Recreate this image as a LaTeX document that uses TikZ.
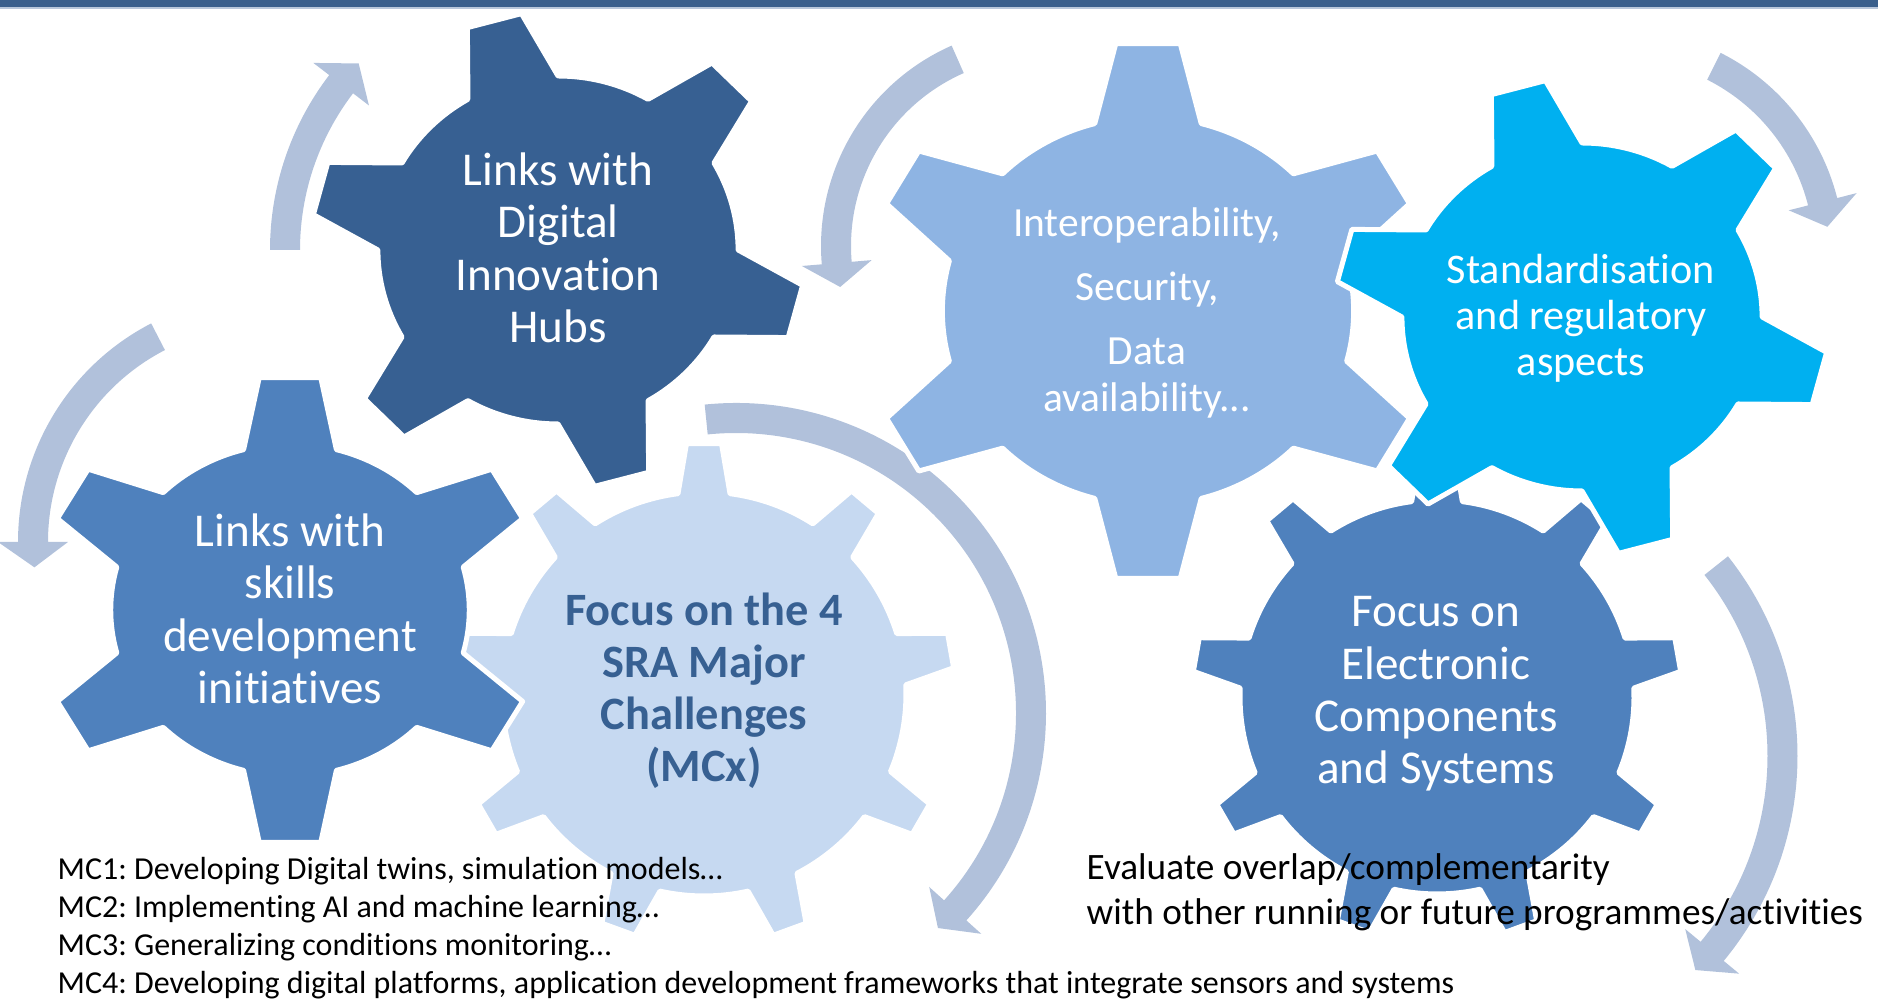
\documentclass[tikz,border=0pt]{standalone}
\usepackage{fontspec}
\setmainfont{Carlito}[Ligatures={NoCommon,NoContextual}]
\usepackage{tikz}
\usetikzlibrary{positioning}
\frenchspacing

\definecolor{barblue}{RGB}{58,95,140}
\definecolor{barline}{RGB}{185,199,219}
\definecolor{hubblue}{RGB}{55,96,146}
\definecolor{midblue}{RGB}{79,129,189}
\definecolor{softblue}{RGB}{142,180,227}
\definecolor{paleblue}{RGB}{198,217,241}
\definecolor{skyblue}{RGB}{0,176,240}
\definecolor{loopblue}{RGB}{177,193,219}

% teeth, first tooth angle, tip radius, body radius, base half angle, tip half angle
\newcommand{\gearpath}[6]{%
	({#2-#5}:#4)
	\foreach \k in {1,...,#1}{
		-- ({#2+(\k-1)*360/#1-#6}:#3) -- ({#2+(\k-1)*360/#1+#6}:#3)
		-- ({#2+(\k-1)*360/#1+#5}:#4)
		arc[start angle={#2+(\k-1)*360/#1+#5}, end angle={#2+\k*360/#1-#5}, radius=#4]
	} -- cycle}

% centre, mid radius, start angle, end of shaft, tip angle
\newcommand{\cyclearrow}[5]{%
	\fill[loopfill] ([shift={({#3}:{#2+15})}]#1) arc[start angle=#3, end angle=#4, radius={#2+15}]
		-- ([shift={({#4}:{#2+35})}]#1) -- ([shift={({#5}:{#2})}]#1)
		-- ([shift={({#4}:{#2-35})}]#1) -- ([shift={({#4}:{#2-15})}]#1)
		arc[start angle=#4, end angle=#3, radius={#2-15}] -- cycle;}

\begin{document}
\begin{tikzpicture}[x=0.1mm, y=-0.1mm,
		gearbody/.style={draw=white, line width=0.5mm, line join=round},
		geartext/.style={text=white, align=center, inner sep=0pt, font=\fontsize{13.4}{14.9}\selectfont},
		loopfill/.style={fill=loopblue}]
		\useasboundingbox (0,0) rectangle (1878,1002);
		\fill[barblue] (0,0) rectangle (1878,7);
		\fill[barline] (0,7) rectangle (1878,9);

		\coordinate (hubsc) at (558,250);
		\coordinate (interc) at (1148,311);
		\coordinate (standc) at (1582,317);
		\coordinate (skillc) at (290,610);
		\coordinate (mcxc) at (704,694);
		\coordinate (ecsc) at (1437,697);
		\coordinate (loopb) at (264,542);
		\coordinate (loopc) at (1040,246);
		\coordinate (loopd) at (1620,253);
		\coordinate (loope) at (736,713);
		\coordinate (loopf) at (1476,756);

		\cyclearrow{hubsc}{273}{180}{217.4}{223.1}
		\cyclearrow{loopb}{231}{242.7}{180}{173.7}
		\cyclearrow{loopc}{204}{246.2}{175.2}{168.4}
		\cyclearrow{loopd}{209}{-63.3}{-14.2}{-7.2}
		\cyclearrow{loope}{295}{-95.8}{42}{46.8}
		\cyclearrow{loopf}{306.5}{-38.4}{39.6}{44.3}

		\filldraw[gearbody, fill=paleblue, shift={(mcxc)}] \gearpath{9}{-90}{251}{202}{7.4}{4};
		\filldraw[gearbody, fill=midblue, shift={(skillc)}, xscale=1.08] \gearpath{6}{-90}{234}{166}{15}{7};
		\filldraw[gearbody, fill=hubblue, shift={(hubsc)}, xscale=1.035] \gearpath{6}{-105}{239}{174}{15}{6.5};
		\filldraw[gearbody, fill=softblue, shift={(interc)}, xscale=1.06] \gearpath{6}{-90}{269}{194}{15}{6.5};
		\filldraw[gearbody, fill=midblue, shift={(ecsc)}] \gearpath{9}{-90}{245}{197}{7.4}{4};
		\filldraw[gearbody, fill=skyblue, shift={(standc)}, xscale=1.035] \gearpath{6}{-105}{239}{174}{15}{6.5};

		\node[geartext] (hubs) at (558,248) {Links with\\Digital\\Innovation\\Hubs};
		\node[geartext] (skills) at (290,609) {Links with\\skills\\development\\initiatives};
		\node[geartext, text=hubblue, font=\fontsize{13.2}{14.8}\selectfont\bfseries] (mcx) at (704,691) {Focus on the 4\\SRA Major\\Challenges\\(MCx)};
		\node[geartext] (ecs) at (1436,694) {Focus on\\Electronic\\Components\\and Systems};
		\node[geartext, font=\fontsize{11.8}{13.4}\selectfont] (interop) at (1147,313) {Interoperability,\\[4.7pt]Security,\\[4.7pt]Data\\availability...};
		\node[geartext, font=\fontsize{12}{13.1}\selectfont] (standard) at (1581,318) {Standardisation\\and regulatory\\aspects};

		\node[anchor=north west, inner sep=0pt, align=left, font=\fontsize{9.1}{10.8}\selectfont] (mclist) at (57,857) {MC1: Developing Digital twins, simulation models…\\MC2: Implementing AI and machine learning…\\MC3: Generalizing conditions monitoring…\\MC4: Developing digital platforms, application development frameworks that integrate sensors and systems};
		\node[anchor=north west, inner sep=0pt, align=left, font=\fontsize{10.6}{12.8}\selectfont] (overlap) at (1086,853) {Evaluate overlap/complementarity\\with other running or future programmes/activities};
\end{tikzpicture}
\end{document}
